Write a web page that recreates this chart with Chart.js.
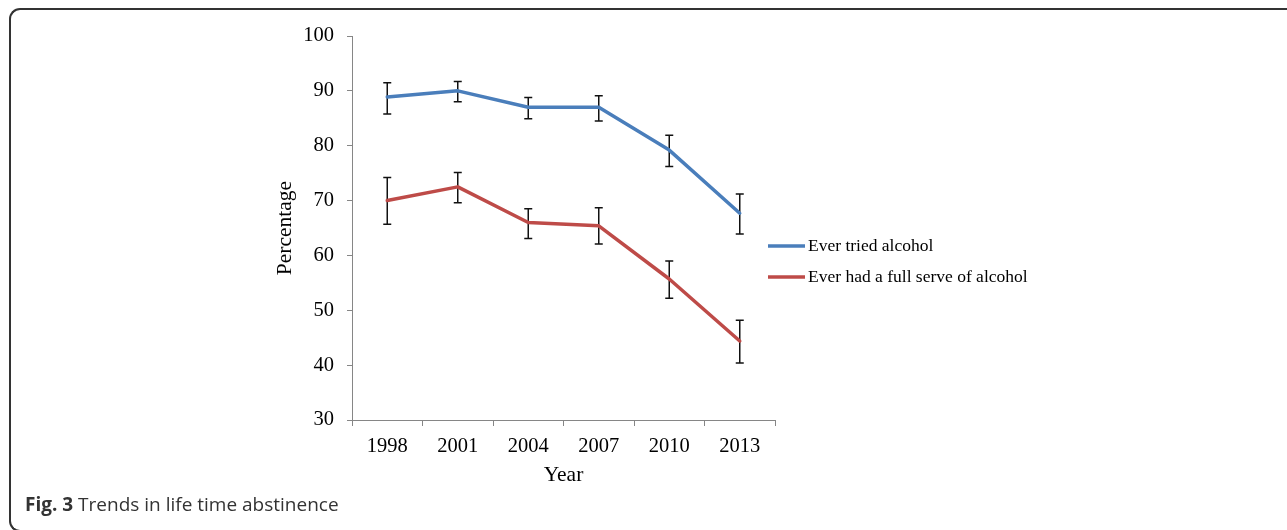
<!DOCTYPE html>
<html>
<head>
<meta charset="utf-8">
<script src="https://cdn.jsdelivr.net/npm/chart.js@4/dist/chart.umd.min.js"></script>
<style>
  html, body { margin: 0; padding: 0; background: #fff; }
  body { width: 1287px; height: 530px; position: relative; overflow: hidden; }
  .frame {
    position: absolute; left: 9px; top: 8px; width: 1300px; height: 524px;
    border: 2px solid #333; border-right: none;
    border-radius: 11px 0 0 11px; box-sizing: border-box;
  }
  .chart-box { position: absolute; left: 0; top: 0; width: 1287px; height: 530px; }
  .caption {
    position: absolute; left: 25px; top: 491px;
    font-family: "Open Sans", sans-serif; font-size: 19px; color: #333;
    white-space: nowrap; line-height: 26px;
  }
  .caption b { font-weight: 700; }
</style>
</head>
<body>
<div class="frame"></div>
<div class="chart-box"><canvas id="chart"></canvas></div>
<div class="caption"><b>Fig. 3</b> Trends in life time abstinence</div>
<script>
// Survey years
const years = ['1998', '2001', '2004', '2007', '2010', '2013'];

// Ever tried alcohol (%), with 95% confidence limits
const triedValues = [88.9, 90.0, 87.0, 87.0, 79.2, 67.7];
const triedLower  = [85.8, 88.0, 84.9, 84.5, 76.2, 63.9];
const triedUpper  = [91.5, 91.7, 88.8, 89.1, 81.9, 71.2];

// Ever had a full serve of alcohol (%), with 95% confidence limits
const fullServeValues = [70.0, 72.5, 66.0, 65.4, 55.7, 44.4];
const fullServeLower  = [65.7, 69.6, 63.1, 62.1, 52.2, 40.4];
const fullServeUpper  = [74.2, 75.1, 68.5, 68.7, 59.0, 48.2];

// Y axis range
const yMin = 30, yMax = 100, yStep = 10;

const serif = '"Liberation Serif", "Times New Roman", serif';
const axisGrey = '#868686';

// Vertical error bars with caps, drawn beneath the lines
const errorBars = {
  id: 'errorBars',
  beforeDatasetsDraw(chart) {
    const { ctx, scales: { x, y } } = chart;
    ctx.save();
    ctx.strokeStyle = '#111';
    ctx.lineWidth = 1.5;
    chart.data.datasets.forEach(ds => {
      ds.lower.forEach((lo, i) => {
        const px = x.getPixelForValue(i);
        const yLo = y.getPixelForValue(lo);
        const yHi = y.getPixelForValue(ds.upper[i]);
        ctx.beginPath();
        ctx.moveTo(px, yLo); ctx.lineTo(px, yHi);
        ctx.moveTo(px - 4, yLo); ctx.lineTo(px + 4, yLo);
        ctx.moveTo(px - 4, yHi); ctx.lineTo(px + 4, yHi);
        ctx.stroke();
      });
    });
    ctx.restore();
  }
};

// Legend to the right of the plot area
const sideLegend = {
  id: 'sideLegend',
  afterDraw(chart) {
    const { ctx, chartArea } = chart;
    const x0 = chartArea.right - 7;
    const rows = [246, 277];
    ctx.save();
    ctx.font = '17.5px ' + serif;
    ctx.textBaseline = 'middle';
    ctx.fillStyle = '#000';
    chart.data.datasets.forEach((ds, i) => {
      const yy = rows[i];
      ctx.strokeStyle = ds.borderColor;
      ctx.lineWidth = 3.5;
      ctx.beginPath();
      ctx.moveTo(x0, yy); ctx.lineTo(x0 + 37, yy);
      ctx.stroke();
      ctx.fillText(ds.label, x0 + 40, yy);
    });
    ctx.restore();
  }
};

new Chart(document.getElementById('chart'), {
  type: 'line',
  data: {
    labels: years,
    datasets: [
      {
        label: 'Ever tried alcohol',
        data: triedValues, lower: triedLower, upper: triedUpper,
        borderColor: '#4A7EBB', backgroundColor: '#4A7EBB',
        borderWidth: 3.5, pointRadius: 0, tension: 0,
        borderCapStyle: 'round', borderJoinStyle: 'round'
      },
      {
        label: 'Ever had a full serve of alcohol',
        data: fullServeValues, lower: fullServeLower, upper: fullServeUpper,
        borderColor: '#BE4B48', backgroundColor: '#BE4B48',
        borderWidth: 3.5, pointRadius: 0, tension: 0,
        borderCapStyle: 'round', borderJoinStyle: 'round'
      }
    ]
  },
  options: {
    responsive: true,
    maintainAspectRatio: false,
    animation: false,
    layout: { padding: { left: 272, right: 512, top: 36, bottom: 42 } },
    plugins: {
      legend: { display: false },
      tooltip: { enabled: false }
    },
    scales: {
      x: {
        type: 'category',
        offset: true,
        afterFit(scale) { scale.height = 68; },
        grid: {
          offset: true, drawOnChartArea: false, drawTicks: true,
          tickLength: 6, color: axisGrey, lineWidth: 1
        },
        border: { display: true, color: axisGrey, width: 1 },
        ticks: { color: '#000', font: { family: serif, size: 20.5 }, padding: 8, maxRotation: 0 },
        title: {
          display: true, text: 'Year', color: '#000',
          font: { family: serif, size: 21.5 }, padding: 0
        }
      },
      y: {
        min: yMin, max: yMax,
        afterFit(scale) { scale.width = 80; },
        grid: {
          drawOnChartArea: false, drawTicks: true,
          tickLength: 5, color: axisGrey, lineWidth: 1
        },
        border: { display: true, color: axisGrey, width: 1 },
        ticks: { stepSize: yStep, color: '#000', font: { family: serif, size: 20.5 }, padding: 13 },
        title: {
          display: true, text: 'Percentage', color: '#000',
          font: { family: serif, size: 21.5 }, padding: 0
        }
      }
    }
  },
  plugins: [errorBars, sideLegend]
});
</script>
</body>
</html>
